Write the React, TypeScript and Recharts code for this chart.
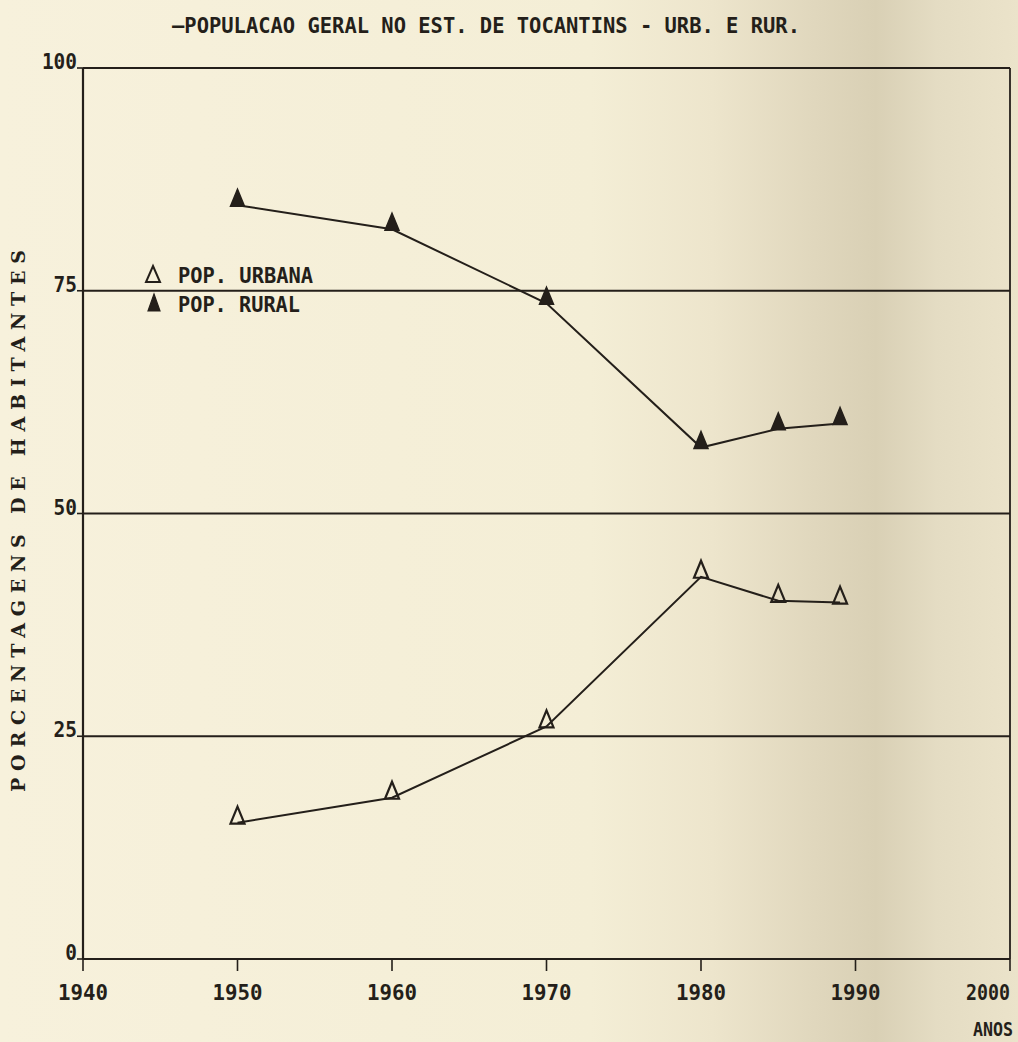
import React from "react";
import { LineChart, Line, XAxis, YAxis, CartesianGrid, ReferenceLine } from "recharts";

const years = [1950, 1960, 1970, 1980, 1985, 1989];
const urbana = [15.3, 18.1, 26.1, 42.9, 40.2, 40.0];
const rural = [84.6, 81.9, 73.6, 57.4, 59.5, 60.1];
const xTicks = [1940, 1950, 1960, 1970, 1980, 1990, 2000];
const yTicks = [0, 25, 50, 75, 100];

const TITLE = "—POPULACAO GERAL NO EST. DE TOCANTINS - URB. E RUR.";
const Y_TITLE = "PORCENTAGENS DE HABITANTES";
const X_TITLE = "ANOS";
const LEG_URB = "POP. URBANA";
const LEG_RUR = "POP. RURAL";

const data = years.map((y, i) => ({ ano: y, urbana: urbana[i], rural: rural[i] }));

const INK = "#241f1a";
const MONO = "'DejaVu Sans Mono', 'Liberation Mono', monospace";
const SERIF = "'DejaVu Serif', 'Liberation Serif', serif";

const triPath = (cx: number, cy: number) =>
  `M${cx},${cy - 16} L${cx + 7},${cy + 1} L${cx - 7},${cy + 1} Z`;

const OpenTri = (p: any) => {
  if (p.cx == null || p.cy == null) return null;
  return <path key={`u${p.index}`} d={triPath(p.cx, p.cy)} fill="none" stroke={INK} strokeWidth={2.2} strokeLinejoin="miter" />;
};
const FilledTri = (p: any) => {
  if (p.cx == null || p.cy == null) return null;
  return <path key={`r${p.index}`} d={triPath(p.cx, p.cy)} fill={INK} stroke={INK} strokeWidth={1.5} />;
};

const XTick = (p: any) => {
  const { x, y, payload } = p;
  const last = payload.value === 2000;
  return (
    <text x={last ? 1010 : x} y={y + 27} textAnchor={last ? "end" : "middle"} fontFamily={MONO} fontWeight="bold" fontSize={22}
      fill={INK} textLength={last ? 44 : 50} lengthAdjust="spacingAndGlyphs">
      {String(payload.value)}
    </text>
  );
};

const YTick = (p: any) => {
  const { x, y, payload } = p;
  const s = String(payload.value);
  return (
    <text x={x} y={y + 1} textAnchor="end" fontFamily={MONO} fontWeight="bold" fontSize={21}
      fill={INK} textLength={s.length * 11.7} lengthAdjust="spacingAndGlyphs">
      {s}
    </text>
  );
};

const YLabel = (p: any) => {
  const vb = p.viewBox || { x: 23, y: 68, width: 60, height: 891 };
  const cx = vb.x - 5;
  const cy = vb.y + vb.height / 2 + 7.5;
  return (
    <text x={cx} y={cy} transform={`rotate(-90 ${cx} ${cy})`} textAnchor="middle" dominantBaseline="central"
      fontFamily={SERIF} fontWeight="bold" fontSize={19} fill={INK} textLength={542} lengthAdjust="spacing">
      {Y_TITLE}
    </text>
  );
};

const XLabel = (p: any) => {
  const vb = p.viewBox || { x: 83, y: 959, width: 927, height: 40 };
  return (
    <text x={vb.x + vb.width + 3} y={vb.y + 77} textAnchor="end" fontFamily={MONO} fontWeight="bold"
      fontSize={19} fill={INK} textLength={40} lengthAdjust="spacingAndGlyphs">
      {X_TITLE}
    </text>
  );
};

export default function App() {
  return (
    <div
      style={{
        position: "absolute",
        left: 0,
        top: 0,
        width: 1018,
        height: 1042,
        overflow: "hidden",
        background:
          "linear-gradient(to right, #f7f1dc 0%, #f4eed6 58%, #ede5cc 70%, #e0d7bd 80%, #d9d0b5 86%, #e4dcc3 92%, #ebe3ca 100%)",
      }}
    >
      <svg width={1018} height={60} style={{ position: "absolute", left: 0, top: 0 }}>
        <text x={172} y={33} fontFamily={MONO} fontWeight="bold" fontSize={21} fill={INK}
          textLength={628} lengthAdjust="spacingAndGlyphs">
          {TITLE}
        </text>
      </svg>
      <div style={{ position: "absolute", left: 0, top: 0 }}>
        <LineChart width={1018} height={1042} data={data} margin={{ top: 68, right: 8, bottom: 43, left: 23 }}>
          <CartesianGrid horizontal vertical={false} stroke={INK} strokeWidth={2.2} />
          <XAxis
            dataKey="ano"
            type="number"
            domain={[1940, 2000]}
            ticks={xTicks}
            interval={0}
            height={40}
            tickSize={12}
            tickMargin={2}
            axisLine={{ stroke: INK, strokeWidth: 2.2 }}
            tickLine={{ stroke: INK, strokeWidth: 1.6 }}
            tick={<XTick />}
            label={<XLabel />}
          />
          <YAxis
            type="number"
            domain={[0, 100]}
            ticks={yTicks}
            interval={0}
            width={60}
            tickSize={6}
            tickMargin={0}
            axisLine={{ stroke: INK, strokeWidth: 2.2 }}
            tickLine={{ stroke: INK, strokeWidth: 1.6 }}
            tick={<YTick />}
            label={<YLabel />}
          />
          <ReferenceLine y={100} stroke={INK} strokeWidth={2.2} />
          <ReferenceLine x={2000} stroke={INK} strokeWidth={1.8} />
          <Line
            type="linear"
            dataKey="rural"
            stroke={INK}
            strokeWidth={2}
            dot={<FilledTri />}
            activeDot={false}
            isAnimationActive={false}
          />
          <Line
            type="linear"
            dataKey="urbana"
            stroke={INK}
            strokeWidth={2}
            dot={<OpenTri />}
            activeDot={false}
            isAnimationActive={false}
          />
        </LineChart>
      </div>
      <svg width={260} height={70} style={{ position: "absolute", left: 130, top: 255 }}>
        <path d="M23,11 L30,27 L16,27 Z" fill="none" stroke={INK} strokeWidth={2} />
        <text x={48} y={28} fontFamily={MONO} fontWeight="bold" fontSize={21} fill={INK}
          textLength={135} lengthAdjust="spacingAndGlyphs">
          {LEG_URB}
        </text>
        <path d="M24,39 L30,56 L18,56 Z" fill={INK} stroke={INK} strokeWidth={1.2} />
        <text x={48} y={57} fontFamily={MONO} fontWeight="bold" fontSize={21} fill={INK}
          textLength={122} lengthAdjust="spacingAndGlyphs">
          {LEG_RUR}
        </text>
      </svg>
    </div>
  );
}
